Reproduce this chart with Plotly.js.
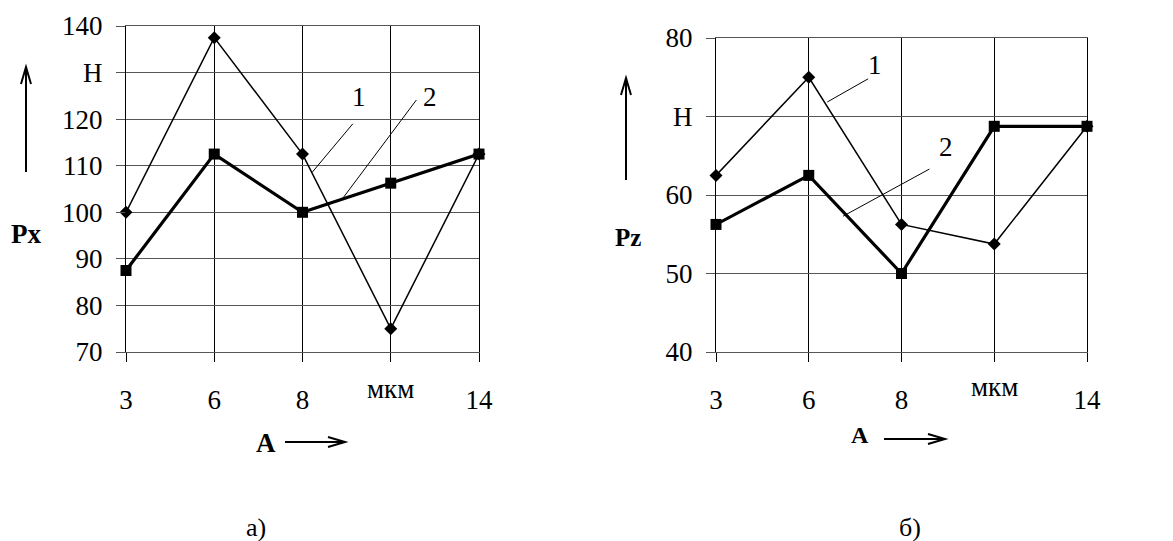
<!DOCTYPE html>
<html>
<head>
<meta charset="utf-8">
<script src="https://cdn.plot.ly/plotly-3.0.1.min.js"></script>
<style>html,body{margin:0;padding:0;background:#fff;}#chart{width:1173px;height:541px;}</style>
</head>
<body>
<div id="chart"></div>
<script>
// ---- data ----
const categories = ['3', '6', '8', 'мкм', '14'];
const xTickLabels = ['3', '6', '8', '', '14'];
const xUnit = 'мкм';
const pxSeries1 = [100, 137.5, 112.5, 75, 112.5];
const pxSeries2 = [87.5, 112.5, 100, 106.25, 112.5];
const pzSeries1 = [62.5, 75, 56.25, 53.75, 68.75];
const pzSeries2 = [56.25, 62.5, 50, 68.75, 68.75];
const pxTickVals = [70, 80, 90, 100, 110, 120, 130, 140];
const pxTickText = ['70', '80', '90', '100', '110', '120', 'Н', '140'];
const pzTickVals = [40, 50, 60, 70, 80];
const pzTickText = ['40', '50', '60', 'Н', '80'];
const seriesNames = ['1', '2'];

// ---- helpers ----
const W = 1173, H = 541;
const px = x => x / W;
const py = y => 1 - y / H;
const idx = categories.map((c, i) => i);
const FONT = '"Liberation Serif", "Times New Roman", serif';
const GRID_H = '#555';

function thin(x, y, xa, ya) {
  return {x: x, y: y, xaxis: xa, yaxis: ya, type: 'scatter', mode: 'lines+markers',
    name: seriesNames[0], cliponaxis: false,
    line: {color: '#000', width: 1.5},
    marker: {symbol: 'diamond', size: 10, color: '#000'}};
}
function thick(x, y, xa, ya) {
  return {x: x, y: y, xaxis: xa, yaxis: ya, type: 'scatter', mode: 'lines+markers',
    name: seriesNames[1], cliponaxis: false,
    line: {color: '#000', width: 3.2},
    marker: {symbol: 'square', size: 11, color: '#000'}};
}

const data = [
  thin(idx, pxSeries1, 'x', 'y'),
  thick(idx, pxSeries2, 'x', 'y'),
  thin(idx, pzSeries1, 'x2', 'y2'),
  thick(idx, pzSeries2, 'x2', 'y2')
];

const xCommon = {
  range: [0, 4], tickmode: 'array', tickvals: idx, ticktext: xTickLabels,
  showgrid: true, gridcolor: '#000', gridwidth: 1, zeroline: false,
  showline: true, mirror: true, linecolor: GRID_H, linewidth: 1,
  ticks: 'outside', ticklen: 9, tickcolor: '#000', tickwidth: 1,
  ticklabelstandoff: 15,
  tickfont: {family: FONT, size: 27, color: '#000'}, fixedrange: true
};
const yCommon = {
  tickmode: 'array', showgrid: true, gridcolor: GRID_H, gridwidth: 1,
  zeroline: false, showline: true, mirror: true, linecolor: '#000', linewidth: 1,
  ticks: 'outside', ticklen: 9, tickcolor: GRID_H, tickwidth: 1,
  ticklabelstandoff: 8,
  tickfont: {family: FONT, size: 27, color: '#000'}, fixedrange: true
};

function txt(xref, yref, x, y, text, size) {
  return {xref: xref, yref: yref, x: x, y: y, text: text, showarrow: false,
    xanchor: 'center', yanchor: 'middle',
    font: {family: FONT, size: size, color: '#000'}};
}

const layout = {
  width: W, height: H, showlegend: false,
  margin: {l: 0, r: 0, t: 0, b: 0},
  paper_bgcolor: '#fff', plot_bgcolor: '#fff',
  xaxis: Object.assign({}, xCommon, {domain: [px(126), px(479)], anchor: 'y'}),
  yaxis: Object.assign({}, yCommon, {domain: [py(352), py(26)], range: [70, 140],
    tickvals: pxTickVals, ticktext: pxTickText, anchor: 'x'}),
  xaxis2: Object.assign({}, xCommon, {domain: [px(716), px(1087)], anchor: 'y2'}),
  yaxis2: Object.assign({}, yCommon, {domain: [py(352), py(38)], range: [40, 80],
    tickvals: pzTickVals, ticktext: pzTickText, anchor: 'x2'}),
  annotations: [
    txt('x', 'paper', 3, py(389), xUnit, 27),
    txt('x2', 'paper', 3, py(387), xUnit, 27),
    txt('paper', 'paper', px(26), py(234), '<b>Px</b>', 27),
    txt('paper', 'paper', px(628), py(237), '<b>Pz</b>', 25),
    txt('paper', 'paper', px(266), py(443), '<b>A</b>', 27),
    txt('paper', 'paper', px(860), py(435), '<b>A</b>', 24),
    txt('x', 'y', 2.64, 124.8, seriesNames[0], 27),
    txt('x', 'y', 3.44, 124.8, seriesNames[1], 27),
    txt('x2', 'y2', 1.71, 76.6, seriesNames[0], 27),
    txt('x2', 'y2', 2.48, 66.1, seriesNames[1], 27),
    txt('paper', 'paper', px(256), py(527), 'а)', 26),
    txt('paper', 'paper', px(910), py(527), 'б)', 26)
  ],
  shapes: [
    // leader lines
    {type: 'line', xref: 'x', yref: 'y', x0: 2.57, y0: 119.0, x1: 2.11, y1: 108.6, line: {color: '#000', width: 1}},
    {type: 'line', xref: 'x', yref: 'y', x0: 3.29, y0: 124.1, x1: 2.46, y1: 103.1, line: {color: '#000', width: 1}},
    {type: 'line', xref: 'x2', yref: 'y2', x0: 1.64, y0: 74.8, x1: 1.20, y1: 71.85, line: {color: '#000', width: 1}},
    {type: 'line', xref: 'x2', yref: 'y2', x0: 2.30, y0: 63.3, x1: 1.37, y1: 57.3, line: {color: '#000', width: 1}},
    // up arrows
    {type: 'path', xref: 'paper', yref: 'paper', line: {color: '#000', width: 2},
      path: `M ${px(26)} ${py(172)} L ${px(26)} ${py(67)} M ${px(21)} ${py(84)} L ${px(26)} ${py(67)} L ${px(31)} ${py(84)}`},
    {type: 'path', xref: 'paper', yref: 'paper', line: {color: '#000', width: 2},
      path: `M ${px(626)} ${py(180)} L ${px(626)} ${py(78)} M ${px(621)} ${py(95)} L ${px(626)} ${py(78)} L ${px(631)} ${py(95)}`},
    // right arrows
    {type: 'path', xref: 'paper', yref: 'paper', line: {color: '#000', width: 2},
      path: `M ${px(285)} ${py(442)} L ${px(345)} ${py(442)} M ${px(328)} ${py(437)} L ${px(345)} ${py(442)} L ${px(328)} ${py(447)}`},
    {type: 'path', xref: 'paper', yref: 'paper', line: {color: '#000', width: 2},
      path: `M ${px(884)} ${py(439)} L ${px(945)} ${py(439)} M ${px(928)} ${py(434)} L ${px(945)} ${py(439)} L ${px(928)} ${py(444)}`}
  ]
};

Plotly.newPlot('chart', data, layout, {staticPlot: true, displayModeBar: false});
</script>
</body>
</html>
